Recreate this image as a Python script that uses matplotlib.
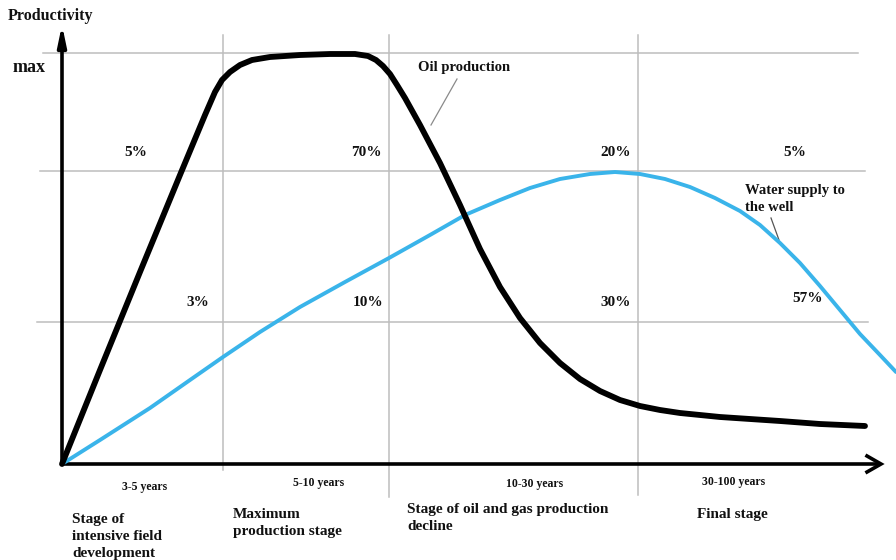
import matplotlib
matplotlib.use("Agg")
import matplotlib.pyplot as plt

# picture coordinates (pixels, y down)
oil_x = [62, 100, 140, 180, 205, 215, 222, 230, 240, 252, 270, 300, 330, 355,
         368, 376, 383, 390, 397, 405, 420, 440, 460, 480, 500, 520, 540, 560,
         580, 600, 620, 640, 660, 680, 720, 780, 820, 865]
oil_y = [464, 370, 272, 175, 115, 92, 80, 72, 65, 60, 57, 55, 54, 54,
         56, 60, 66, 74, 85, 98, 125, 163, 205, 249, 287, 318, 343, 363,
         379, 391, 400, 406, 410, 413, 417, 421, 424, 426]

water_x = [62, 100, 150, 190, 223, 260, 300, 345, 389, 430, 465, 500, 530, 560,
           590, 615, 640, 665, 690, 715, 740, 760, 780, 800, 820, 840, 860, 880, 896]
water_y = [464, 440, 408, 380, 357, 332, 307, 282, 258, 235, 215, 200, 188, 179,
           174, 172, 174, 179, 187, 198, 211, 225, 243, 263, 286, 310, 334, 355, 372]

grid_y = [53, 171, 322]
grid_x0 = [43, 40, 37]
grid_x1 = [858, 865, 868]
stage_x = [223, 389, 638]
stage_y1 = [470, 497, 495]

top_pct = ["5%", "70%", "20%", "5%"]
top_pct_x = [136, 366, 616, 795]
low_pct = ["3%", "10%", "30%", "57%"]
low_pct_x = [198, 368, 616, 808]
low_pct_y = [302, 302, 302, 298]

years = ["3-5 years", "5-10 years", "10-30 years", "30-100 years"]
years_x = [145, 319, 535, 734]
years_y = [487, 483, 484, 482]

stages = ["Stage of\nintensive field\ndevelopment", "Maximum\nproduction stage",
          "Stage of oil and gas production\ndecline", "Final stage"]
stages_x = [72, 233, 407, 697]
stages_y = [513, 508, 503, 508]

fig = plt.figure(figsize=(8.96, 5.6), dpi=100)
ax = fig.add_axes([0, 0, 1, 1])
ax.set_xlim(0, 896)
ax.set_ylim(560, 0)
ax.axis("off")

serif = dict(family="Liberation Serif", weight="bold", color="#111111")
gc = "#bdbdbd"

for y, a, b in zip(grid_y, grid_x0, grid_x1):
    ax.plot([a, b], [y, y], color=gc, lw=1.1, zorder=1)
for x, y1 in zip(stage_x, stage_y1):
    ax.plot([x, x], [35, y1], color=gc, lw=1.1, zorder=1)

# axes with arrows
ax.plot([62, 62], [464, 35], color="black", lw=2.6, zorder=3)
ax.annotate("", xy=(62, 22), xytext=(62, 50),
            arrowprops=dict(arrowstyle="-|>,head_length=1.2,head_width=0.25",
                            color="black", lw=2.6))
ax.plot([62, 878], [464, 464], color="black", lw=2.6, zorder=3)
ax.plot([867, 881, 867], [456, 464, 472], color="black", lw=2.6,
        solid_joinstyle="miter", zorder=3)

ax.plot(water_x, water_y, color="#3ab4ea", lw=2.8, zorder=4,
        solid_capstyle="round", solid_joinstyle="round")
ax.plot(oil_x, oil_y, color="black", lw=4.2, zorder=5,
        solid_capstyle="round", solid_joinstyle="round")

ax.text(8, 16, "Productivity", fontsize=11.5, va="center", ha="left", **serif)
ax.text(13, 68, "max", fontsize=13, va="center", ha="left", **serif)

for t, x in zip(top_pct, top_pct_x):
    ax.text(x, 153, t, fontsize=11, va="center", ha="center", **serif)
for t, x, y in zip(low_pct, low_pct_x, low_pct_y):
    ax.text(x, y, t, fontsize=11, va="center", ha="center", **serif)

ax.text(418, 68, "Oil production", fontsize=10.5, va="center", ha="left", **serif)
ax.plot([457, 431], [79, 125], color="#8a8a8a", lw=0.9)
ax.text(745, 199, "Water supply to\nthe well", fontsize=10.5, va="center",
        ha="left", linespacing=1.35, **serif)
ax.plot([771, 779], [218, 240], color="#555555", lw=0.9)

for t, x, y in zip(years, years_x, years_y):
    ax.text(x, y, t, fontsize=8.5, va="center", ha="center", **serif)
for t, x, y in zip(stages, stages_x, stages_y):
    ax.text(x, y, t, fontsize=11, va="top", ha="left", linespacing=1.4, **serif)

fig.savefig("out.png", dpi=100)
